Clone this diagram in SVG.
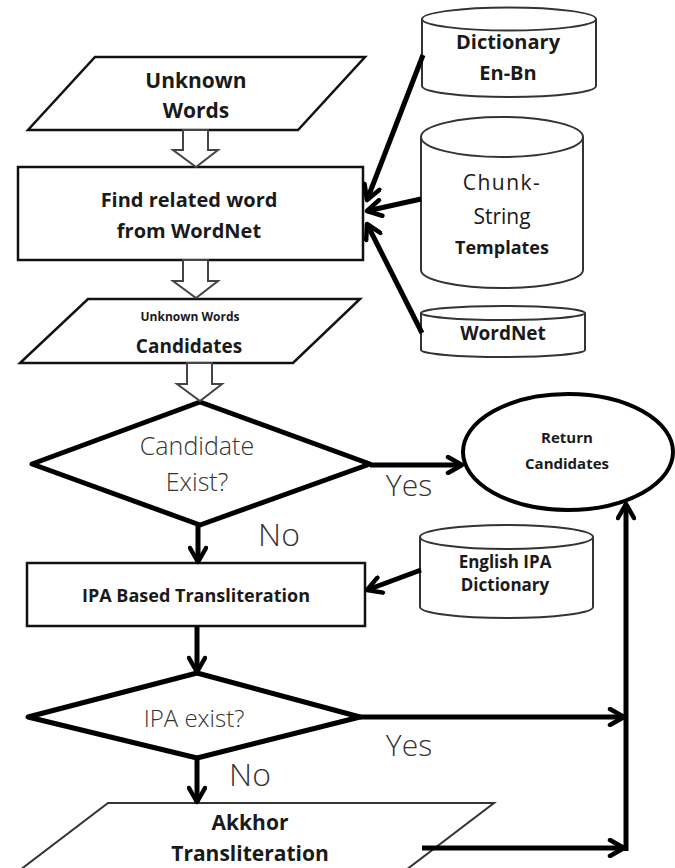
<svg xmlns="http://www.w3.org/2000/svg" width="675" height="868" viewBox="0 0 675 868">
  <style>
    .shape { fill: #fff; stroke: #111; stroke-width: 2.5; }
    .thin { fill: #fff; stroke: #333; stroke-width: 2; }
    .bold-shape { fill: #fff; stroke: #000; stroke-width: 5; stroke-linejoin: round; }
    .block { fill: #fff; stroke: #444; stroke-width: 2; }
    .conn { fill: none; stroke: #000; stroke-width: 5; }
    .t { font-family: "Open Sans", "Noto Sans", sans-serif; fill: #1a1a1a; text-anchor: middle; }
    .b { font-weight: bold; }
    .light { font-family: "Open Sans", "Noto Sans", sans-serif; fill: #333; text-anchor: middle; font-weight: 300; }
  </style>
  <defs>
    <marker id="open" viewBox="0 0 20 20" refX="17" refY="10" markerWidth="20" markerHeight="20" orient="auto" markerUnits="userSpaceOnUse">
      <path d="M3,2 L17,10 L3,18" fill="none" stroke="#000" stroke-width="4.5" stroke-linecap="round" stroke-linejoin="round"/>
    </marker>
  </defs>

  <!-- input: unknown words -->
  <g id="unknown-words">
    <polygon class="shape" points="95,57 365,57 298,130 28,130"/>
    <text class="t b" x="196" y="88" font-size="21">Unknown</text>
    <text class="t b" x="196" y="118" font-size="21">Words</text>
  </g>

  <!-- wordnet lookup -->
  <g id="find-related">
    <rect class="shape" x="18" y="167" width="345" height="93"/>
    <text class="t b" x="189" y="207" font-size="20">Find related word</text>
    <text class="t b" x="189" y="238" font-size="20">from WordNet</text>
  </g>

  <!-- candidate list -->
  <g id="candidates">
    <polygon class="shape" points="88,299 360,299 293,363 20,363"/>
    <text class="t b" x="190" y="321" font-size="12">Unknown Words</text>
    <text class="t b" x="189" y="353" font-size="19">Candidates</text>
  </g>

  <!-- decision: candidates found -->
  <g id="candidate-exist">
    <polygon class="bold-shape" points="200,402 370,464 200,525 32,464"/>
    <text class="light" x="197" y="455" font-size="25">Candidate</text>
    <text class="light" x="197" y="491" font-size="25">Exist?</text>
  </g>

  <!-- terminal -->
  <g id="return-candidates">
    <ellipse cx="568" cy="452" rx="105" ry="58" fill="#fff" stroke="#000" stroke-width="4"/>
    <text class="t b" x="567" y="443" font-size="15">Return</text>
    <text class="t b" x="567" y="469" font-size="15">Candidates</text>
  </g>

  <!-- IPA transliteration step -->
  <g id="ipa-transliteration">
    <rect class="shape" x="27" y="563" width="338" height="63"/>
    <text class="t b" x="196" y="602" font-size="18">IPA Based Transliteration</text>
  </g>

  <!-- decision: IPA found -->
  <g id="ipa-exist">
    <polygon class="bold-shape" points="197,673 360,717 197,758 28,717"/>
    <text class="light" x="194" y="727" font-size="24">IPA exist?</text>
  </g>

  <!-- fallback output -->
  <g id="akkhor">
    <polygon class="thin" points="108,803 494,803 406,870 20,870"/>
    <text class="t b" x="250" y="830" font-size="21">Akkhor</text>
    <text class="t b" x="250" y="861" font-size="21">Transliteration</text>
  </g>

  <!-- data stores -->
  <g id="dictionary-en-bn">
    <path class="thin" d="M422,19 L422,86 A87,11 0 0 0 596,86 L596,19"/>
    <ellipse class="thin" cx="509" cy="19" rx="87" ry="11.5"/>
    <text class="t b" x="508" y="49" font-size="20">Dictionary</text>
    <text class="t b" x="508" y="80" font-size="20">En-Bn</text>
  </g>

  <g id="chunk-string-templates">
    <path class="thin" d="M421,137 L421,270 A81,18 0 0 0 583,270 L583,137"/>
    <ellipse class="thin" cx="502" cy="137" rx="81" ry="20"/>
    <text class="t" x="502" y="190" font-size="21" letter-spacing="1.5">Chunk-</text>
    <text class="t" x="502" y="224" font-size="21">String</text>
    <text class="t b" x="502" y="254" font-size="18">Templates</text>
  </g>

  <g id="wordnet">
    <path class="thin" d="M421,313 L421,350 A82,7 0 0 0 585,350 L585,313"/>
    <ellipse class="thin" cx="503" cy="313" rx="82" ry="7"/>
    <text class="t b" x="503" y="340" font-size="19">WordNet</text>
  </g>

  <g id="english-ipa-dictionary">
    <path class="thin" d="M420,537 L420,607 A86.5,11 0 0 0 593,607 L593,537"/>
    <ellipse class="thin" cx="506.5" cy="537" rx="86.5" ry="12"/>
    <text class="t b" x="505" y="568" font-size="17">English IPA</text>
    <text class="t b" x="505" y="591" font-size="17">Dictionary</text>
  </g>

  <!-- connectors -->
  <g id="connectors">
    <!-- hollow block arrows down the main chain -->
    <path class="block" d="M183,130 L208,130 L208,150 L218,150 L196,167 L173,150 L183,150 Z"/>
    <path class="block" d="M183,260 L208,260 L208,281 L218,281 L196,298 L173,281 L183,281 Z"/>
    <path class="block" d="M187,363 L212,363 L212,384 L222,384 L200,401 L177,384 L187,384 Z"/>

    <!-- data stores feeding the WordNet step -->
    <line class="conn" x1="423" y1="55" x2="367" y2="200" marker-end="url(#open)"/>
    <line class="conn" x1="421" y1="199" x2="367" y2="211" marker-end="url(#open)"/>
    <line class="conn" x1="422" y1="333" x2="367" y2="224" marker-end="url(#open)"/>

    <!-- candidate decision -->
    <line class="conn" x1="198" y1="526" x2="198" y2="562" marker-end="url(#open)"/>
    <line class="conn" x1="370" y1="465" x2="462" y2="465" marker-end="url(#open)"/>
    <text class="light" x="279" y="546" font-size="32">No</text>
    <text class="light" x="409" y="496" font-size="30">Yes</text>

    <!-- IPA dictionary lookup -->
    <line class="conn" x1="421" y1="570" x2="367" y2="590" marker-end="url(#open)"/>
    <line class="conn" x1="197" y1="626" x2="197" y2="672" marker-end="url(#open)"/>

    <!-- IPA decision -->
    <line class="conn" x1="360" y1="717" x2="624" y2="717" marker-end="url(#open)"/>
    <line class="conn" x1="197" y1="758" x2="197" y2="802" marker-end="url(#open)"/>
    <text class="light" x="250" y="786" font-size="32">No</text>
    <text class="light" x="409" y="756" font-size="30">Yes</text>

    <!-- Akkhor output and return path -->
    <line class="conn" x1="422" y1="848" x2="624" y2="848" marker-end="url(#open)"/>
    <line class="conn" x1="626" y1="851" x2="626" y2="504" marker-end="url(#open)"/>
  </g>
</svg>
